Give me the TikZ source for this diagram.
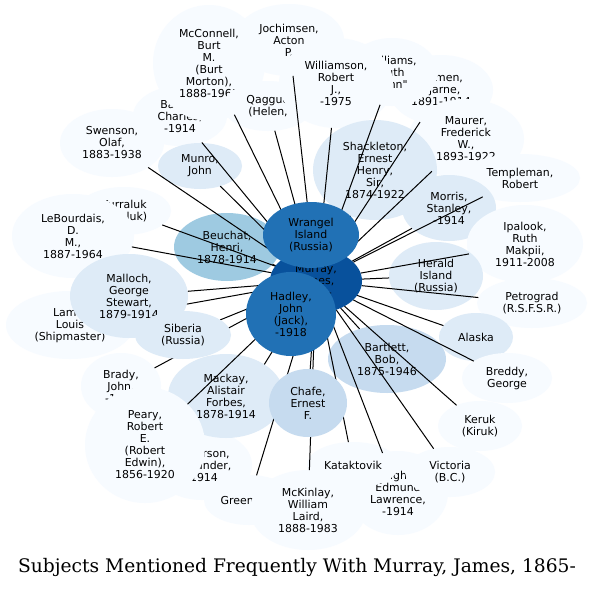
\documentclass[tikz,border=0pt]{standalone}
\usepackage{fontspec}
\newfontfamily\nodefont{DejaVu Sans}
\newfontfamily\titlefont{DejaVu Serif}
\usetikzlibrary{shapes.geometric}
\definecolor{c0}{HTML}{F7FBFF}
\definecolor{c1}{HTML}{DEEBF7}
\definecolor{c2}{HTML}{C6DBEF}
\definecolor{c3}{HTML}{9ECAE1}
\definecolor{c5}{HTML}{2171B5}
\definecolor{c6}{HTML}{08519C}
\pgfdeclarelayer{bg}
\pgfdeclarelayer{back}
\pgfdeclarelayer{mid}
\pgfsetlayers{bg,back,mid,main}
\begin{document}
\begin{tikzpicture}[x=0.75pt,y=-0.75pt,
  base/.style={ellipse, inner sep=0pt, outer sep=0pt, align=center, text=black,
    font=\nodefont\fontsize{8.2pt}{9pt}\selectfont},
  sz/.style 2 args={minimum width=#1*1.5pt, minimum height=#2*1.5pt},
  f0/.style={base, fill=c0}, f1/.style={base, fill=c1}, f2/.style={base, fill=c2},
  f3/.style={base, fill=c3}, f5/.style={base, fill=c5}, f6/.style={base, fill=c6},
  link/.style={draw=black, line width=0.75pt}]
\begin{pgfonlayer}{bg}
\fill[white] (0,0) rectangle (593,589);
\end{pgfonlayer}
\useasboundingbox (0,0) rectangle (593,589);
% ---- top layer nodes (above the connectors)
\node[f1, sz={59}{42}] (malloch) at (129,296) {Malloch,\\George\\Stewart,\\1879-1914};
\node[f1, sz={48}{24}] (siberia) at (183,335) {Siberia\\(Russia)};
\node[f2, sz={39}{34}] (chafe) at (308,403) {Chafe,\\Ernest\\F.};
\node[f6, sz={46}{32}] (murray) at (316,281) {Murray,\\James,\\1865-};
\node[f5, sz={48}{33}] (wrangel) at (311,235) {Wrangel\\Island\\(Russia)};
\node[f5, sz={45}{42}] (hadley) at (291,314) {Hadley,\\John\\(Jack),\\-1918};
% ---- back layer nodes
\begin{pgfonlayer}{back}
\node[f0, sz={47}{30}] (barker) at (180,116) {Barker,\\Charles,\\-1914};
\node[f0, sz={55}{36}] (jochimsen) at (289,40) {Jochimsen,\\Acton\\P.};
\node[f0, sz={56}{58}] (mcconnell) at (209,63) {McConnell,\\Burt\\M.\\(Burt\\Morton),\\1888-1961};
\node[f0, sz={52}{35}] (mamen) at (441,90) {Mamen,\\Bjarne,\\1891-1914};
\node[f0, sz={46}{34}] (williams) at (392,72) {Williams,\\Ruth\\"Ann"};
\node[f0, sz={45}{25}] (qagguq) at (268,106) {Qagguq\\(Helen,};
\node[f0, sz={57}{45}] (williamson) at (336,83) {Williamson,\\Robert\\J.,\\-1975};
\node[f0, sz={52}{34}] (swenson) at (112,143) {Swenson,\\Olaf,\\1883-1938};
\node[f1, sz={42}{23}] (munro) at (200,166) {Munro,\\John};
\node[f0, sz={58}{40}] (maurer) at (466,139) {Maurer,\\Frederick\\W.,\\1893-1922};
\node[f0, sz={60}{24}] (templeman) at (520,178) {Templeman,\\Robert};
\node[f1, sz={62}{50}] (shackleton) at (375,170) {Shackleton,\\Ernest\\Henry,\\Sir,\\1874-1922};
\node[f1, sz={47}{33}] (morris) at (449,208) {Morris,\\Stanley,\\-1914};
\node[f0, sz={58}{39}] (ipalook) at (525,244) {Ipalook,\\Ruth\\Makpii,\\1911-2008};
\node[f0, sz={47}{24}] (kurraluk) at (124,211) {Kurraluk\\(Kiraluk)};
\node[f0, sz={61}{42}] (lebourdais) at (73,236) {LeBourdais,\\D.\\M.,\\1887-1964};
\node[f3, sz={53}{34}] (beuchat) at (227,247) {Beuchat,\\Henri,\\1878-1914};
\node[f0, sz={64}{34}] (lamb) at (70,325) {Lamb,\\Louis\\(Shipmaster)};
\node[f1, sz={47}{34}] (herald) at (436,276) {Herald\\Island\\(Russia)};
\node[f0, sz={55}{25}] (petrograd) at (532,303) {Petrograd\\(R.S.F.S.R.)};
\node[f1, sz={37}{24}] (alaska) at (476,337) {Alaska};
\node[f0, sz={45}{25}] (breddy) at (507,378) {Breddy,\\George};
\node[f0, sz={42}{25}] (keruk) at (480,426) {Keruk\\(Kiruk)};
\node[f2, sz={59}{34}] (bartlett) at (387,359) {Bartlett,\\Bob,\\1875-1946};
\node[f0, sz={40}{33}] (brady) at (121,386) {Brady,\\John,\\-1914};
\node[f0, sz={50}{35}] (anderson) at (202,465) {Anderson,\\Alexander,\\-1914};
\draw[link] (murray) -- (anderson);
\node[f1, sz={58}{42}] (mackay) at (226,396) {Mackay,\\Alistair\\Forbes,\\1878-1914};
\node[f0, sz={60}{58}] (peary) at (145,445) {Peary,\\Robert\\E.\\(Robert\\Edwin),\\1856-1920};
\node[f0, sz={50}{42}] (golightly) at (398,493) {Golightly,\\Edmund\\Lawrence,\\-1914};
\node[f0, sz={46}{23}] (kataktovik) at (353,465) {Kataktovik};
\node[f0, sz={45}{25}] (victoria) at (450,472) {Victoria\\(B.C.)};
\node[f0, sz={45}{25}] (green) at (249,500) {Greenland};
\node[f0, sz={58}{40}] (mckinlay) at (308,510) {McKinlay,\\William\\Laird,\\1888-1983};
\end{pgfonlayer}
% ---- connectors
\begin{pgfonlayer}{mid}
\foreach \t in {jochimsen,barker,mcconnell,mamen,williams,qagguq,williamson,swenson,munro,
  maurer,templeman,shackleton,morris,ipalook,kurraluk,lebourdais,beuchat,lamb,herald,
  petrograd,alaska,breddy,keruk,bartlett,brady,peary,golightly,kataktovik,victoria,green,
  mckinlay,malloch,siberia,chafe,wrangel,hadley}
  {\draw[link] (murray) -- (\t);}
\end{pgfonlayer}
\node[font=\titlefont\fontsize{14pt}{16pt}\selectfont, inner sep=0pt] (title) at (297,567)
  {Subjects Mentioned Frequently With Murray, James, 1865-};
\end{tikzpicture}
\end{document}
